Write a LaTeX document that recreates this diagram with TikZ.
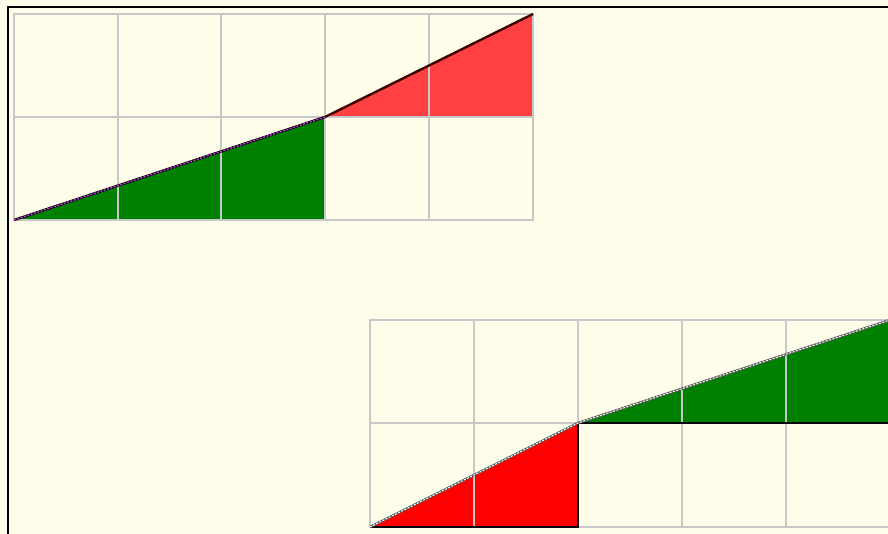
\documentclass[tikz,border=0pt]{standalone}
\begin{document}
\begin{tikzpicture}[x=1pt,y=-1pt,
  gridline/.style={draw=gridgray,line width=1.5pt},
  edge/.style={draw=black,line width=1.8pt}]
\definecolor{cream}{HTML}{FEFDE9}
\definecolor{gridgray}{HTML}{C8C8C8}
\definecolor{lightred}{HTML}{FF4040}
\definecolor{darkgreen}{HTML}{008000}
\definecolor{purp}{HTML}{D040F0}
\useasboundingbox (0,0) rectangle (888,534);
\fill[cream] (0,0) rectangle (888,534);
\begin{scope}
\clip (0,0) rectangle (888,534);
% top figure fills
\fill[darkgreen] (14,220) -- (325,117) -- (325,220) -- cycle;
\fill[lightred] (325,117) -- (533,14) -- (533,117) -- cycle;
% bottom figure fills
\fill[red] (370,527) -- (578,423) -- (578,527) -- cycle;
\fill[darkgreen] (578,423) -- (890,320) -- (890,423) -- cycle;
% grids
\draw[gridline] (14,14) rectangle (533,220);
\foreach \x in {118,221,325,429} \draw[gridline] (\x,14) -- (\x,220);
\draw[gridline] (14,117) -- (533,117);
\draw[gridline] (370,320) rectangle (894,527);
\foreach \x in {474,578,682,786} \draw[gridline] (\x,320) -- (\x,527);
\draw[gridline] (370,423) -- (894,423);
% top lines
\draw[black,line width=2.4pt] (14,220) -- (325,117);
\draw[purp,line width=1.2pt,dash pattern=on 2pt off 1.5pt] (14,220) -- (325,117);
\draw[black!75!red,line width=2.4pt] (325,117) -- (533,14);
% bottom lines
\draw[edge] (578,423) -- (578,527) -- (370,527);
\draw[edge] (578,423) -- (894,423);
\draw[black!65,line width=2.4pt] (370,527) -- (578,423) -- (890,320);
\draw[white,line width=1pt,dash pattern=on 2pt off 1.5pt] (370,527) -- (578,423) -- (890,320);
\end{scope}
% frame
\draw[black,line width=2pt] (8,534) -- (8,7) -- (888,7);
\end{tikzpicture}
\end{document}
